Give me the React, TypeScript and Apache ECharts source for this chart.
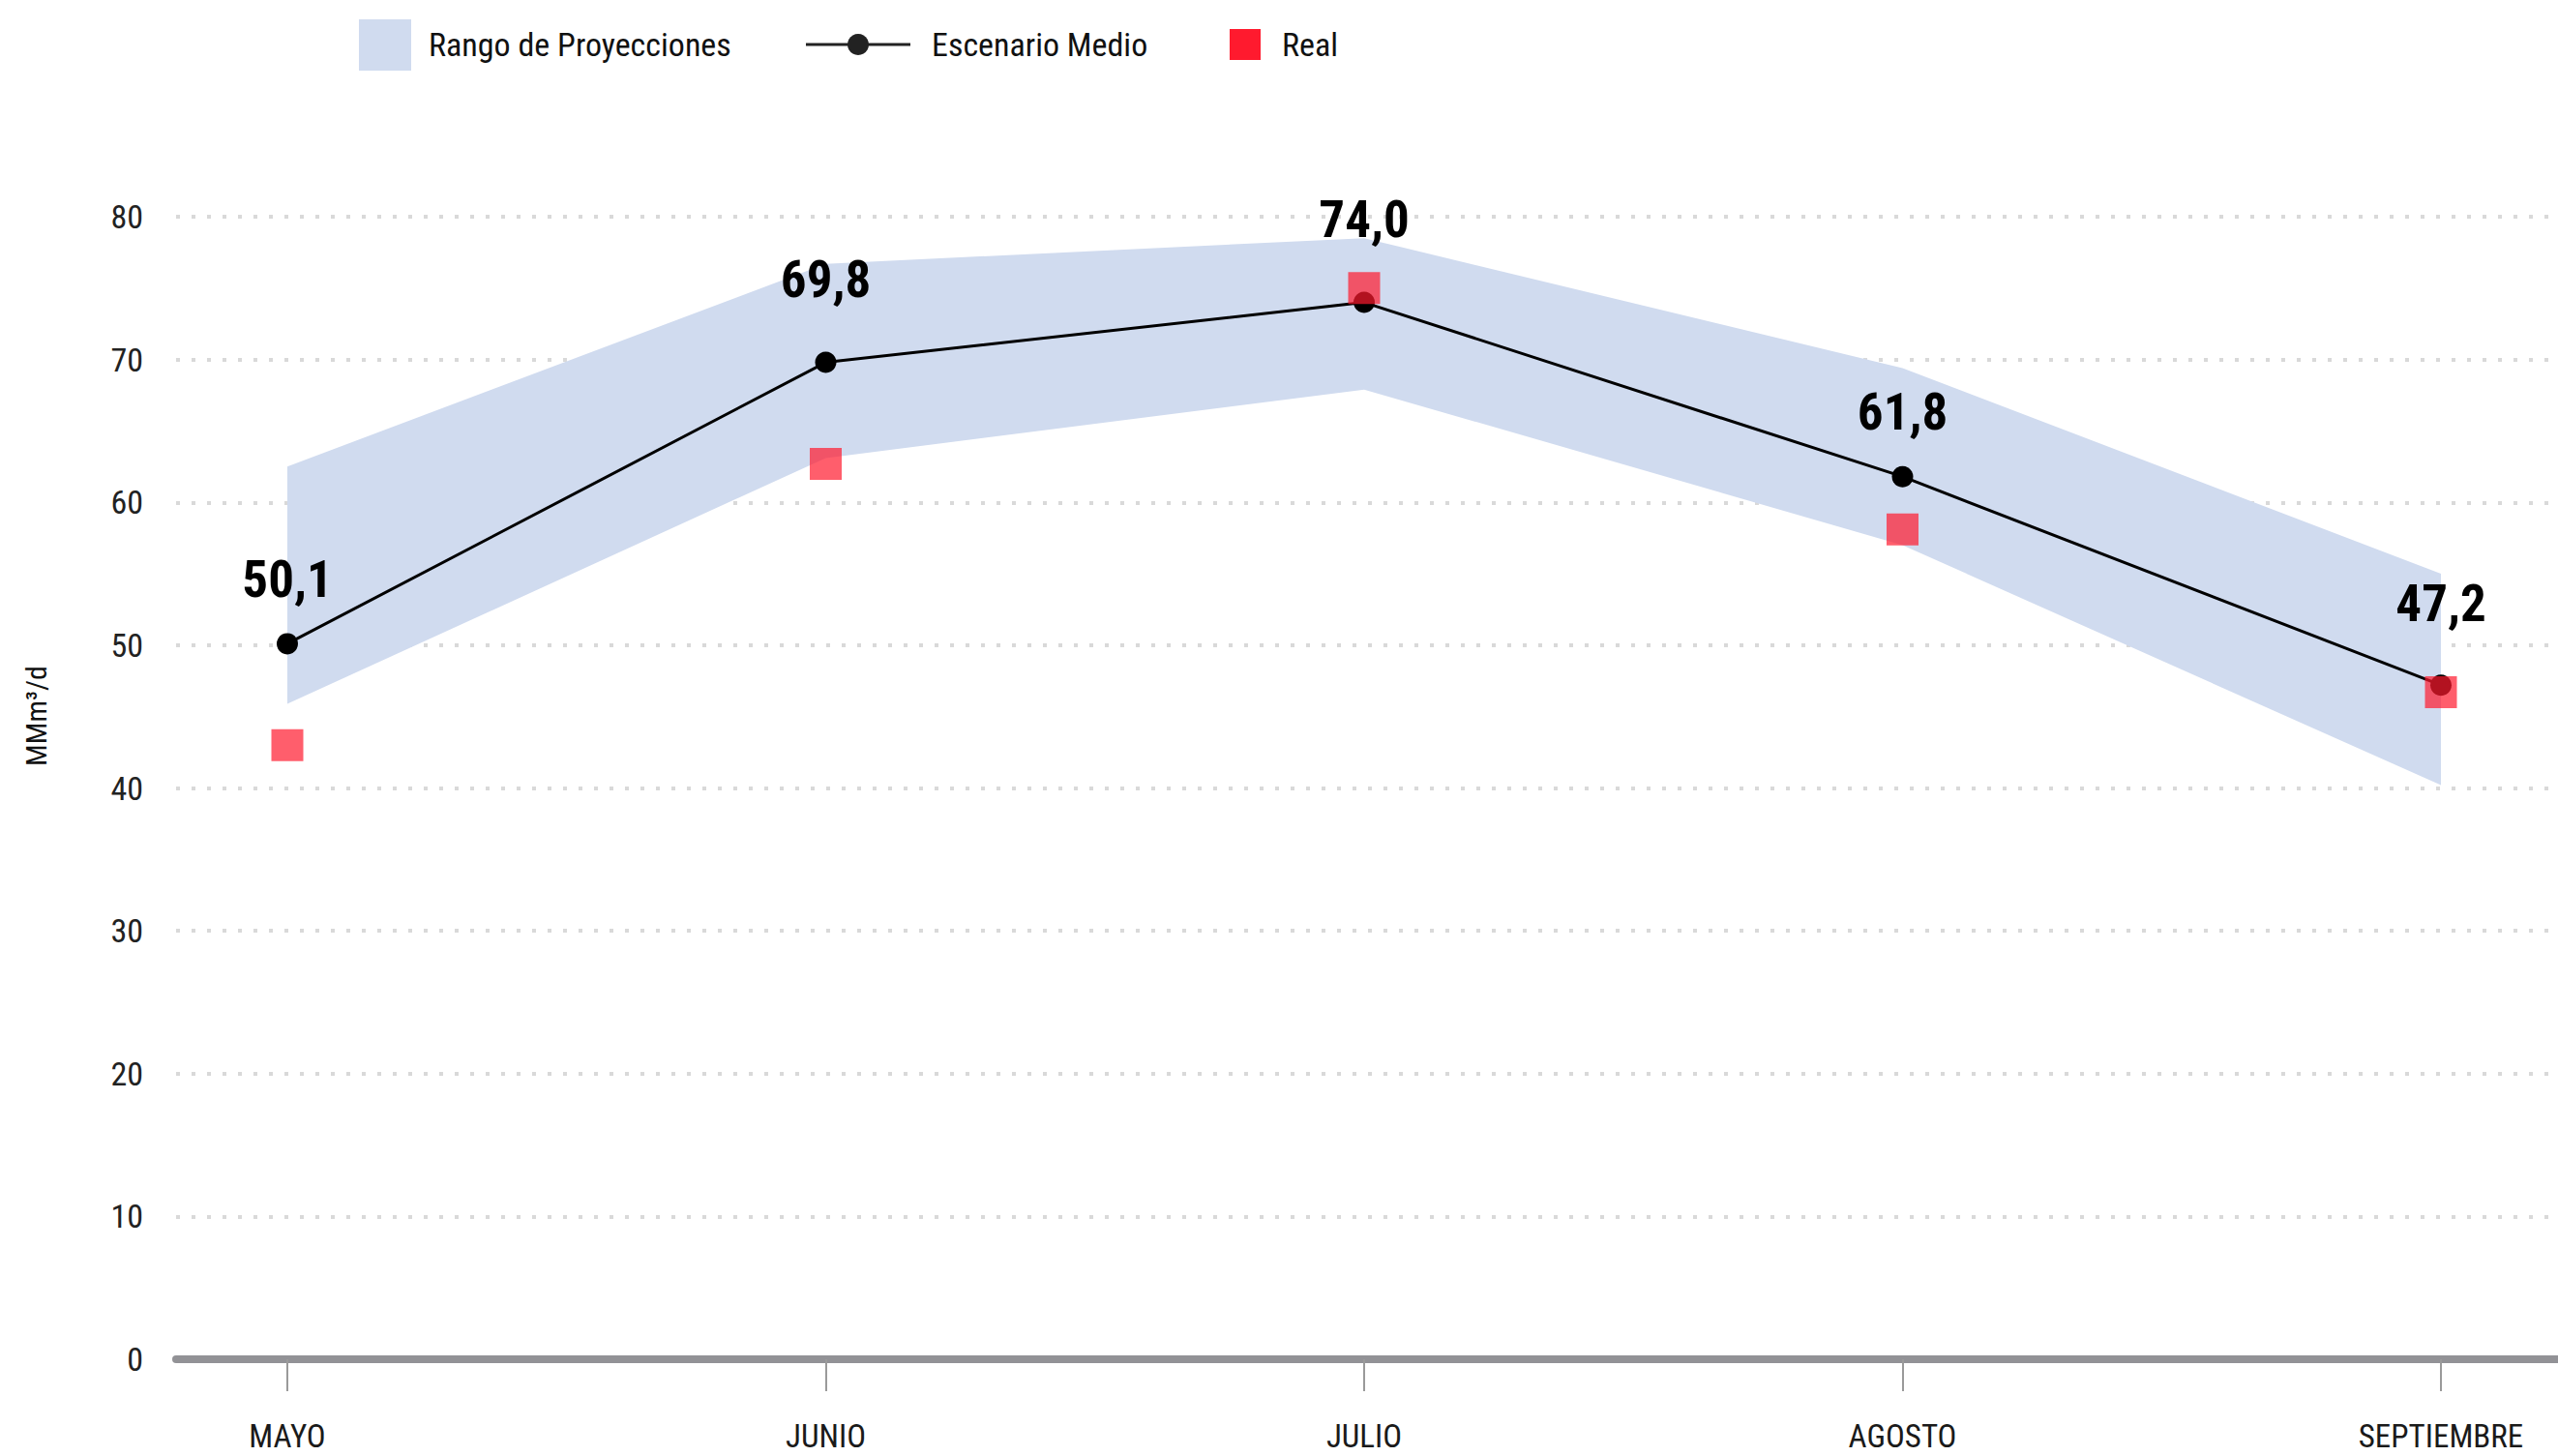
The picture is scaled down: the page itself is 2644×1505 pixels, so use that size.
import React, { useEffect, useRef } from "react";
import * as echarts from "echarts";

const categories = ["MAYO", "JUNIO", "JULIO", "AGOSTO", "SEPTIEMBRE"];
const escenarioMedio = [50.1, 69.8, 74.0, 61.8, 47.2];
const rangoMin = [45.9, 63.1, 67.9, 57.0, 40.2];
const rangoMax = [62.5, 76.7, 78.5, 69.4, 55.0];
const real = [43.0, 62.7, 75.0, 58.1, 46.7];
const yMin = 0;
const yMax = 80;
const yInterval = 10;
// label offset above each point (px)
const labelDistance = [29, 48, 48, 29, 47];

const BAND = "#d0dbef";
const RED = "#ff1a2e";

function pickFont(): string {
  const candidates = [
    "Roboto Condensed",
    "Liberation Sans Narrow",
    "Noto Sans Condensed",
    "DejaVu Sans Condensed",
  ];
  try {
    const ctx = document.createElement("canvas").getContext("2d");
    if (!ctx) return "Roboto";
    const test = "Rango de Proyecciones 0123456789";
    for (const f of candidates) {
      let ok = true;
      for (const base of ["monospace", "serif"]) {
        ctx.font = `40px ${base}`;
        const w0 = ctx.measureText(test).width;
        ctx.font = `40px "${f}", ${base}`;
        const w1 = ctx.measureText(test).width;
        if (w0 === w1) ok = false;
      }
      if (ok) return f;
    }
  } catch (e) {}
  return "Roboto";
}

export default function App() {
  const ref = useRef<HTMLDivElement>(null);

  useEffect(() => {
    document.body.style.margin = "0";
    if (!ref.current) return;
    const font = pickFont();
    const chart = echarts.init(ref.current, undefined, { renderer: "svg" });

    const bandDiff = rangoMax.map((v, i) => +(v - rangoMin[i]).toFixed(2));
    const meanData = escenarioMedio.map((v, i) => ({
      value: v,
      label: { distance: labelDistance[i] },
    }));

    const legendText = (text: string, x: number) => ({
      type: "text",
      x,
      y: 46,
      style: {
        text,
        font: `34px "${font}"`,
        fill: "#111111",
        verticalAlign: "middle",
        textVerticalAlign: "middle",
      },
    });

    const option: any = {
      animation: false,
      backgroundColor: "#ffffff",
      textStyle: { fontFamily: font },
      grid: [
        { left: 182, right: 0, top: 224, bottom: 100 },
        { left: 297, right: 121, top: 224, bottom: 100 },
      ],
      xAxis: [
        {
          gridIndex: 0,
          type: "value",
          min: 0,
          max: 1,
          axisLine: { show: true, onZero: false, lineStyle: { color: "#929296", width: 8 } },
          axisTick: { show: false },
          axisLabel: { show: false },
          splitLine: { show: false },
        },
        {
          gridIndex: 1,
          type: "category",
          data: categories,
          boundaryGap: false,
          axisLine: { show: false },
          axisTick: {
            show: true,
            alignWithLabel: true,
            length: 33,
            lineStyle: { color: "#9a9a9a", width: 2 },
          },
          axisLabel: {
            show: true,
            margin: 67,
            fontSize: 33,
            lineHeight: 24,
            color: "#1a1a1a",
            fontFamily: font,
          },
          splitLine: { show: false },
        },
      ],
      yAxis: [
        {
          gridIndex: 0,
          type: "value",
          min: yMin,
          max: yMax,
          interval: yInterval,
          axisLine: { show: false },
          axisTick: { show: false },
          axisLabel: {
            margin: 34,
            fontSize: 34,
            color: "#222222",
            fontFamily: font,
          },
          splitLine: {
            show: true,
            lineStyle: { color: "#d9d9d9", width: 4, type: [4, 12] },
          },
        },
        {
          gridIndex: 1,
          type: "value",
          min: yMin,
          max: yMax,
          interval: yInterval,
          show: false,
          splitLine: { show: false },
        },
      ],
      graphic: [
        { type: "rect", left: 371, top: 20, shape: { width: 54, height: 53 }, style: { fill: BAND } },
        legendText("Rango de Proyecciones", 443),
        {
          type: "line",
          shape: { x1: 833, y1: 46, x2: 941, y2: 46 },
          style: { stroke: "#222222", lineWidth: 3 },
        },
        {
          type: "circle",
          shape: { cx: 887, cy: 46, r: 11 },
          style: { fill: "#222222" },
        },
        legendText("Escenario Medio", 963),
        { type: "rect", left: 1271, top: 30, shape: { width: 32, height: 32 }, style: { fill: RED } },
        legendText("Real", 1325),
        {
          type: "text",
          x: 37,
          y: 740,
          rotation: Math.PI / 2,
          style: {
            text: "MMm³/d",
            font: `30px "${font}"`,
            fill: "#111111",
            align: "center",
            verticalAlign: "middle",
            textAlign: "center",
            textVerticalAlign: "middle",
          },
        },
      ],
      series: [
        {
          name: "RangoMin",
          type: "line",
          xAxisIndex: 1,
          yAxisIndex: 1,
          data: rangoMin,
          stack: "band",
          symbol: "none",
          lineStyle: { width: 0, opacity: 0 },
          areaStyle: { opacity: 0 },
          silent: true,
          z: 1,
        },
        {
          name: "Rango de Proyecciones",
          type: "line",
          xAxisIndex: 1,
          yAxisIndex: 1,
          data: bandDiff,
          stack: "band",
          symbol: "none",
          lineStyle: { width: 0, opacity: 0 },
          areaStyle: { color: BAND, opacity: 1 },
          silent: true,
          z: 1,
        },
        {
          name: "Escenario Medio",
          type: "line",
          xAxisIndex: 1,
          yAxisIndex: 1,
          data: meanData,
          symbol: "circle",
          symbolSize: 22,
          itemStyle: { color: "#000000" },
          lineStyle: { color: "#000000", width: 3 },
          label: {
            show: true,
            position: "top",
            distance: 24,
            fontSize: 53,
            fontWeight: "bold",
            color: "#000000",
            fontFamily: font,
            formatter: (p: any) => Number(p.value).toFixed(1).replace(".", ","),
          },
          z: 3,
        },
        {
          name: "Real",
          type: "scatter",
          xAxisIndex: 1,
          yAxisIndex: 1,
          data: real,
          symbol: "rect",
          symbolSize: 33,
          itemStyle: { color: RED, opacity: 0.7 },
          z: 4,
        },
      ],
    };

    chart.setOption(option);
    return () => chart.dispose();
  }, []);

  return (
    <div
      ref={ref}
      style={{ position: "absolute", left: 0, top: 0, width: 2644, height: 1505 }}
    />
  );
}
